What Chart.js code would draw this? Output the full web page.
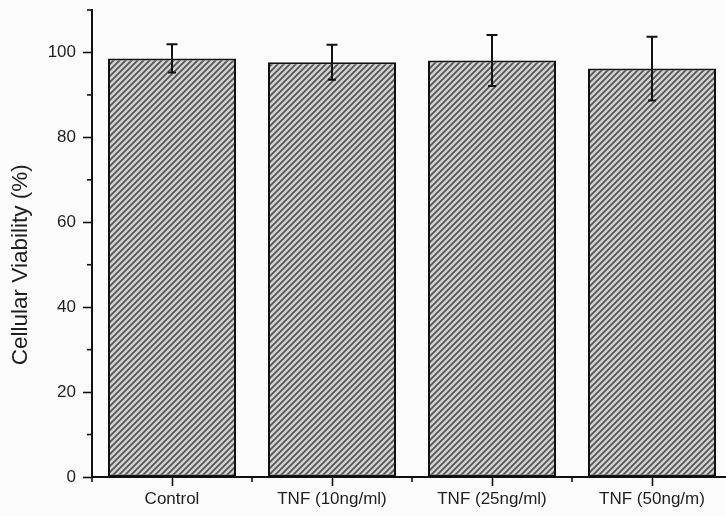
<!DOCTYPE html>
<html>
<head>
<meta charset="utf-8">
<script src="https://cdn.jsdelivr.net/npm/chart.js@4"></script>
<style>
  html, body { margin: 0; padding: 0; background: #fcfcfc; overflow: hidden; }
  #wrap { width: 760px; height: 516px; position: relative; }
</style>
</head>
<body>
<div id="wrap"><canvas id="c" width="760" height="516"></canvas></div>
<script>
const categories = ['Control', 'TNF (10ng/ml)', 'TNF (25ng/ml)', 'TNF (50ng/m)'];
const viability = [98.6, 97.7, 98.1, 96.2];
const errors = [3.35, 4.1, 6.0, 7.5];
const yTicks = [0, 20, 40, 60, 80, 100];
const yMinorTicks = [10, 30, 50, 70, 90, 110];
const yTitle = 'Cellular Viability (%)';

function makeHatch() {
  const s = 6;
  const c = document.createElement('canvas');
  c.width = s; c.height = s;
  const g = c.getContext('2d');
  g.fillStyle = '#d2d2d2';
  g.fillRect(0, 0, s, s);
  g.strokeStyle = '#555';
  g.lineWidth = 1.8;
  g.beginPath();
  g.moveTo(-1, s + 1); g.lineTo(s + 1, -1);
  g.moveTo(-1, 1); g.lineTo(1, -1);
  g.moveTo(s - 1, s + 1); g.lineTo(s + 1, s - 1);
  g.stroke();
  return g.createPattern(c, 'repeat');
}

const font = 'Liberation Sans, Arial, Helvetica, sans-serif';

const extras = {
  id: 'extras',
  afterDatasetsDraw(chart) {
    const ctx = chart.ctx;
    const y = chart.scales.y, x = chart.scales.x;
    const meta = chart.getDatasetMeta(0);
    ctx.save();
    ctx.strokeStyle = '#111';
    ctx.lineWidth = 2;
    meta.data.forEach((bar, i) => {
      const px = Math.round(bar.x);
      const top = y.getPixelForValue(viability[i] + errors[i]);
      const bot = y.getPixelForValue(viability[i] - errors[i]);
      ctx.beginPath();
      ctx.moveTo(px, top); ctx.lineTo(px, bot);
      ctx.moveTo(px - 5.5, top); ctx.lineTo(px + 5.5, top);
      ctx.moveTo(px - 4, bot); ctx.lineTo(px + 4, bot);
      ctx.stroke();
    });
    ctx.lineWidth = 1.6;
    const ax = chart.chartArea.left;
    yMinorTicks.forEach(v => {
      const py = y.getPixelForValue(v);
      ctx.beginPath();
      ctx.moveTo(ax - 5, py); ctx.lineTo(ax, py);
      ctx.stroke();
    });
    const by = chart.chartArea.bottom;
    for (let i = 0; i <= categories.length; i++) {
      const px = x.getPixelForValue(i - 0.5);
      ctx.beginPath();
      ctx.moveTo(px, by); ctx.lineTo(px, by + 5);
      ctx.stroke();
    }
    const cy = y.getPixelForValue(50);
    ctx.translate(21, cy);
    ctx.rotate(-Math.PI / 2);
    ctx.fillStyle = '#1e1e1e';
    ctx.font = '22.5px ' + font;
    ctx.textAlign = 'center';
    ctx.textBaseline = 'middle';
    ctx.fillText(yTitle, 0, 0);
    ctx.restore();
  }
};

new Chart(document.getElementById('c'), {
  type: 'bar',
  data: {
    labels: categories,
    datasets: [{
      data: viability,
      backgroundColor: makeHatch(),
      borderColor: '#111',
      borderWidth: 2,
      borderSkipped: false,
      barPercentage: 0.8,
      categoryPercentage: 1.0
    }]
  },
  options: {
    responsive: false,
    animation: false,
    devicePixelRatio: 1,
    layout: { padding: { top: 10, right: 28, left: 0, bottom: 0 } },
    plugins: { legend: { display: false }, tooltip: { enabled: false } },
    scales: {
      x: {
        offset: true,
        grid: { offset: false, drawOnChartArea: false, tickLength: 9, tickColor: '#111', tickWidth: 1.6 },
        border: { color: '#111', width: 2 },
        ticks: { color: '#1e1e1e', font: { family: font, size: 17 }, padding: 3, maxRotation: 0 },
        afterFit(s) { s.height = 39; s.paddingLeft = 0; s.paddingRight = 0; }
      },
      y: {
        min: 0, max: 110,
        afterBuildTicks(s) { s.ticks = yTicks.map(v => ({ value: v })); },
        grid: { drawOnChartArea: false, tickLength: 9, tickColor: '#111', tickWidth: 1.6 },
        border: { color: '#111', width: 2 },
        ticks: { color: '#1e1e1e', font: { family: font, size: 17 }, padding: 7 },
        title: { display: false },
        afterFit(s) { s.width = 92; s.paddingTop = 0; s.paddingBottom = 0; }
      }
    }
  },
  plugins: [extras]
});
</script>
</body>
</html>
